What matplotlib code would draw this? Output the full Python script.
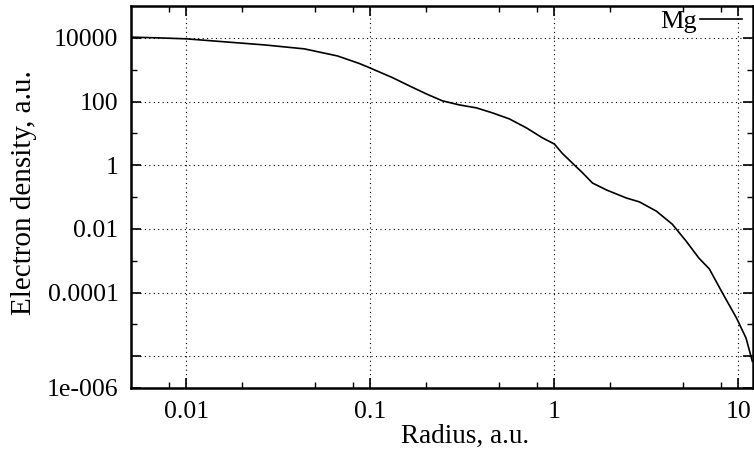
import numpy as np
import matplotlib.pyplot as plt
from matplotlib.ticker import FixedLocator, NullFormatter

# valores (raio em a.u., densidade em a.u.)
radius = [0.00502, 0.00695, 0.01, 0.0161, 0.0265, 0.0438, 0.0662, 0.0871,
          0.0989, 0.132, 0.163, 0.201, 0.246, 0.305, 0.377, 0.46, 0.569,
          0.705, 0.861, 1.0, 1.1, 1.25, 1.42, 1.61, 1.92, 2.46, 2.9, 3.58, 4.37,
          5.2, 6.1, 6.95, 8.2, 9.75, 11.0, 11.9]
density = [1.05e4, 1.0e4, 9.3e3, 7.5e3, 6.0e3, 4.5e3, 2.7e3, 1.56e3,
           1.15e3, 560, 309, 174, 105, 78, 63, 44, 28.4,
           14.8, 7.2, 4.6, 2.4, 1.17, 0.58, 0.275, 0.166, 0.093, 0.07, 0.036, 0.014,
           0.0041, 0.0012, 5.5e-4, 9.5e-5, 1.6e-5, 3.7e-6, 6.9e-7]

xticks = [0.01, 0.1, 1, 10]
xticklabels = ['0.01', '0.1', '1', '10']
xminor = [0.008, 0.02, 0.05, 0.08, 0.2, 0.5, 0.8, 2, 5, 8]
yticks = [1e4, 1e2, 1, 1e-2, 1e-4, 1e-6, 1e-7]
yticklabels = ['10000', '100', '1', '0.01', '0.0001', '', '1e-006']
yminor = [1e3, 1e1, 1e-1, 1e-3, 1e-5]

plt.rcParams['font.family'] = 'Liberation Serif'

fig = plt.figure(figsize=(7.54, 4.57), dpi=100)
ax = fig.add_axes([131/754, 69/457, 622/754, 382/457])

ax.plot(radius, density, color='black', linewidth=1.2, label='Mg')
ax.set_xscale('log')
ax.set_yscale('log')
ax.set_xlim(0.005, 12)
ax.set_ylim(1e-7, 1e5)

ax.xaxis.set_major_locator(FixedLocator(xticks))
ax.set_xticklabels(xticklabels)
ax.xaxis.set_minor_locator(FixedLocator(xminor))
ax.xaxis.set_minor_formatter(NullFormatter())
ax.yaxis.set_major_locator(FixedLocator(yticks))
ax.set_yticklabels(yticklabels)
ax.yaxis.set_minor_locator(FixedLocator(yminor))
ax.yaxis.set_minor_formatter(NullFormatter())

ax.tick_params(which='both', direction='in', top=True, right=True, labelsize=18.5, color='black')
ax.tick_params(which='major', length=7, width=1.2, pad=9)
ax.tick_params(which='minor', length=4, width=1.0)

ax.grid(True, which='major', color='black', linestyle=(0, (1, 3)), linewidth=0.8)
for s in ax.spines.values():
    s.set_linewidth(1.8)

ax.set_xlabel('Radius, a.u.', fontsize=19.5, labelpad=1)
ax.set_ylabel('Electron density, a.u.', fontsize=21, labelpad=7)
ax.xaxis.label.set_x(0.537)
ax.yaxis.label.set_y(0.512)

ax.legend(loc='upper right', frameon=False, markerfirst=False, fontsize=19,
          handlelength=1.6, borderaxespad=0.0, borderpad=0.0, handletextpad=0.1,
          bbox_to_anchor=(1 - 11/622, 1 - 4/382))

fig.savefig('out.png', dpi=100)
